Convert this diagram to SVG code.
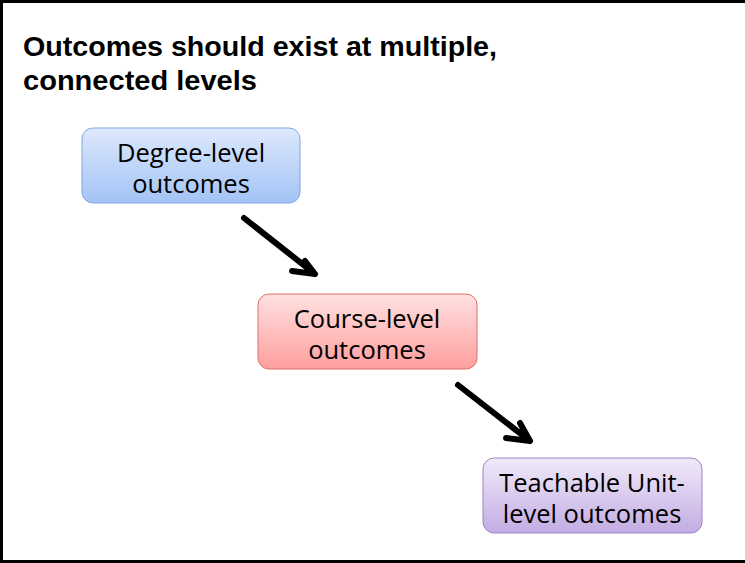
<svg xmlns="http://www.w3.org/2000/svg" width="745" height="563" viewBox="0 0 745 563">
<defs>
<linearGradient id="gBlue" x1="0" y1="0" x2="0" y2="1"><stop offset="0" stop-color="#dde9fc"/><stop offset="1" stop-color="#a3c3f5"/></linearGradient>
<linearGradient id="gRed" x1="0" y1="0" x2="0" y2="1"><stop offset="0" stop-color="#ffe1e1"/><stop offset="1" stop-color="#ff9e9e"/></linearGradient>
<linearGradient id="gPurple" x1="0" y1="0" x2="0" y2="1"><stop offset="0" stop-color="#f1eaf9"/><stop offset="1" stop-color="#c3ace3"/></linearGradient>
</defs>
<style>
.title{font-family:"Liberation Sans",Arial,sans-serif;font-weight:bold;font-size:27px;fill:#000}
.lbl{font-family:"Open Sans","Liberation Sans",sans-serif;font-size:25.5px;fill:#000;text-anchor:middle}
.arr{fill:none;stroke:#000;stroke-width:6;stroke-linecap:round;stroke-linejoin:round}
</style>
<rect x="0" y="0" width="745" height="563" fill="#fff"/>
<path d="M1.5,563 V1.5 H745 M0,561.5 H745" fill="none" stroke="#000" stroke-width="3"/>
<text class="title" x="23" y="56" textLength="474" lengthAdjust="spacingAndGlyphs">Outcomes should exist at multiple,</text>
<text class="title" x="23" y="90" textLength="234" lengthAdjust="spacingAndGlyphs">connected levels</text>
<g id="degree">
<rect x="82" y="128" width="218" height="75" rx="11" fill="url(#gBlue)" stroke="#7fa6e2" stroke-width="1"/>
<text class="lbl" x="191" y="161.5">Degree-level</text>
<text class="lbl" x="191" y="193">outcomes</text>
</g>
<g id="course">
<rect x="258" y="294" width="219" height="75" rx="11" fill="url(#gRed)" stroke="#de6f6f" stroke-width="1"/>
<text class="lbl" x="367" y="327.5">Course-level</text>
<text class="lbl" x="367" y="359">outcomes</text>
</g>
<g id="unit">
<rect x="483" y="458" width="219" height="75" rx="11" fill="url(#gPurple)" stroke="#9d84c9" stroke-width="1"/>
<text class="lbl" x="592" y="491.5">Teachable Unit-</text>
<text class="lbl" x="592" y="523">level outcomes</text>
</g>
<g id="connectors">
<path class="arr" d="M244,218 L315,274 M292,271 L315,274 L305,261"/>
<path class="arr" d="M458,385 L530,441 M506,438 L530,441 L520,423"/>
</g>
</svg>
